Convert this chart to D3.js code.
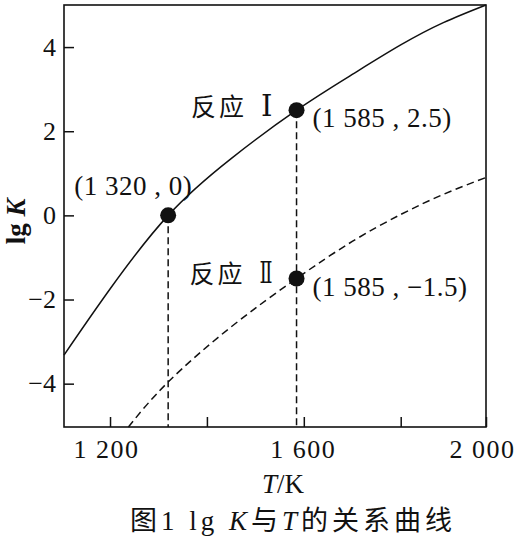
<!DOCTYPE html>
<html><head><meta charset="utf-8">
<script src="https://cdn.jsdelivr.net/npm/d3@7"></script>
<style>
html,body{margin:0;padding:0;background:#fff;}
text{font-family:"Liberation Serif","Noto Sans CJK SC",serif;fill:#111;}
</style></head>
<body>
<script>
// ---- data ----
const curveI_T   = [1105, 1200, 1320, 1450, 1585, 1700, 1800, 1900, 2000];
const curveI_lgK = [-3.32, -1.75, 0, 1.35, 2.5, 3.35, 4.05, 4.58, 5.0];
const curveII_T   = [1238, 1320, 1450, 1585, 1700, 1800, 1900, 2000];
const curveII_lgK = [-5.03, -3.96, -2.65, -1.5, -0.62, 0.02, 0.5, 0.9];
const pointT   = [1320, 1585, 1585];
const pointLgK = [0, 2.5, -1.5];
const pointLabels = ["(1 320 , 0)", "(1 585 , 2.5)", "(1 585 , −1.5)"];
const reactionNames = ["反应", "反应"];
const reactionNums = ["Ⅰ", "Ⅱ"];
const xTicks = [1200, 1400, 1600, 1800, 2000];
const xTickLabels = {1200: "1 200", 1600: "1 600", 2000: "2 000"};
const yTicks = [-4, -2, 0, 2, 4];
const xDomain = [1105, 1800, 2000];
const yDomain = [-5.03, 5];

const W = 523, H = 538;
const mLeft = 64, mRight = 486, mTop = 5, mBottom = 427;

const svg = d3.select("body").append("svg").attr("width", W).attr("height", H)
  .style("display","block");
svg.append("rect").attr("width",W).attr("height",H).attr("fill","#fff");

const x = d3.scaleLinear().domain(xDomain).range([mLeft, 400.7, mRight]);
const y = d3.scaleLinear().domain(yDomain).range([mBottom, mTop]);

// frame
svg.append("rect").attr("x",mLeft).attr("y",mTop).attr("width",mRight-mLeft).attr("height",mBottom-mTop)
  .attr("fill","none").attr("stroke","#111").attr("stroke-width",1.6);

// y axis
const yAxis = d3.axisLeft(y).tickValues(yTicks).tickSize(-10).tickPadding(8)
  .tickFormat(d => d < 0 ? "−" + Math.abs(d) : String(d));
const gy = svg.append("g").attr("transform", `translate(${mLeft},0)`).call(yAxis);
gy.select(".domain").remove();
gy.selectAll(".tick line").attr("stroke","#111").attr("stroke-width",1.5);
gy.selectAll(".tick text").attr("x", -8).attr("font-size", 26)
  .attr("font-family","Liberation Serif").attr("fill","#111");

// x axis
const xAxis = d3.axisBottom(x).tickValues(xTicks).tickSize(-10).tickPadding(14)
  .tickFormat(d => xTickLabels[d] || "");
const gx = svg.append("g").attr("transform", `translate(0,${mBottom})`).call(xAxis);
gx.select(".domain").remove();
gx.selectAll(".tick line").attr("stroke","#111").attr("stroke-width",1.5);
gx.selectAll(".tick text").attr("y", 31).attr("dy", 0).attr("font-size", 26)
  .attr("letter-spacing", 1.5).attr("dx", -1)
  .attr("font-family","Liberation Serif").attr("fill","#111");
gx.selectAll(".tick").filter(d => d === 1200).select("text").attr("dx", -4);
gx.selectAll(".tick").filter(d => d === 2000).select("text").attr("dx", -4);

// curves
const line = d3.line().x(d => x(d[0])).y(d => y(d[1])).curve(d3.curveNatural);
const dataI = curveI_T.map((t,i) => [t, curveI_lgK[i]]);
const dataII = curveII_T.map((t,i) => [t, curveII_lgK[i]]);
svg.append("path").datum(dataI).attr("d", line).attr("fill","none")
  .attr("stroke","#111").attr("stroke-width",1.5);
svg.append("path").datum(dataII).attr("d", line).attr("fill","none")
  .attr("stroke","#111").attr("stroke-width",1.5).attr("stroke-dasharray","7.5,4.5");

// vertical dashed guides
[0, 1].forEach(i => {
  svg.append("line").attr("x1", x(pointT[i])).attr("x2", x(pointT[i]))
    .attr("y1", y(pointLgK[i])).attr("y2", mBottom)
    .attr("stroke","#111").attr("stroke-width",1.5).attr("stroke-dasharray","7,4");
});

// points
pointT.forEach((t,i) => {
  svg.append("circle").attr("cx", x(t)).attr("cy", y(pointLgK[i])).attr("r", 8).attr("fill","#111");
});

// point labels
const lbl = (txt, px, py, anchor) => svg.append("text").attr("x", px).attr("y", py)
  .attr("text-anchor", anchor).attr("font-size", 27).attr("letter-spacing", 0.5).text(txt);
lbl(pointLabels[0], x(pointT[0]) + 24, y(pointLgK[0]) - 20, "end");
lbl(pointLabels[1], x(pointT[1]) + 16, y(pointLgK[1]) + 17, "start");
lbl(pointLabels[2], x(pointT[2]) + 16, y(pointLgK[2]) + 18, "start");

// reaction labels
const rl = (main, num, px, py, numW) => {
  const t = svg.append("text").attr("x", px).attr("y", py).attr("text-anchor","end");
  t.append("tspan").attr("font-family","Noto Sans CJK SC").attr("font-size", 25)
    .attr("letter-spacing", 3).text(main);
  const n = t.append("tspan").attr("font-family","DejaVu Serif").attr("font-size", 29)
    .attr("dx", 14).text(num);
  if (numW) n.attr("textLength", numW).attr("lengthAdjust", "spacingAndGlyphs");
};
rl(reactionNames[0], reactionNums[0], x(pointT[1]) - 24, y(pointLgK[1]) + 6, null);
rl(reactionNames[1], reactionNums[1], x(pointT[2]) - 24, y(pointLgK[2]) + 5, 13);

// axis titles
const yt = svg.append("text").attr("transform", `translate(25,${y(0)+6}) rotate(-90)`)
  .attr("text-anchor","middle").attr("font-size", 27).attr("font-weight","bold");
yt.append("tspan").text("lg ");
yt.append("tspan").attr("font-style","italic").text("K");

const xt = svg.append("text").attr("x", 283).attr("y", 492.5).attr("text-anchor","middle").attr("font-size", 27);
xt.append("tspan").attr("font-style","italic").text("T");
xt.append("tspan").text("/K");

// caption
const cap = svg.append("text").attr("x", 293).attr("y", 530).attr("text-anchor","middle")
  .attr("font-size", 27).attr("letter-spacing", 4);
cap.append("tspan").attr("font-family","Noto Sans CJK SC").text("图");
cap.append("tspan").text("1 lg ");
cap.append("tspan").attr("font-style","italic").text("K");
cap.append("tspan").attr("font-family","Noto Sans CJK SC").text("与");
cap.append("tspan").attr("font-style","italic").text("T");
cap.append("tspan").attr("font-family","Noto Sans CJK SC").text("的关系曲线");
</script>
</body></html>
